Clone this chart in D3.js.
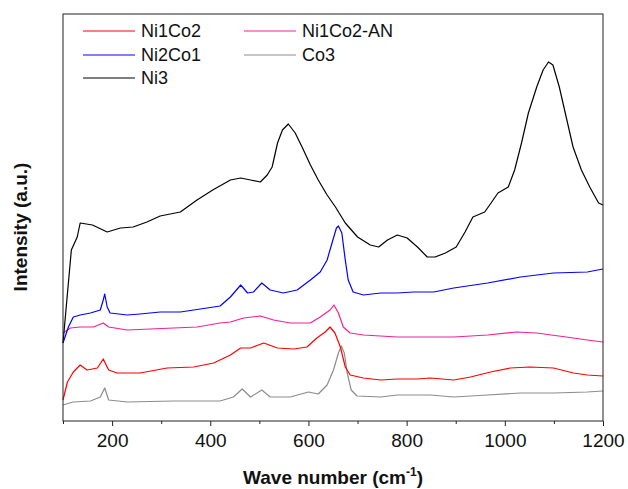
<!DOCTYPE html>
<html lang="en">
<head>
    <meta charset="UTF-8">
    <title>Raman spectra</title>
    <style>
        body {
            margin: 0;
            background: #fff;
            font-family: 'Liberation Sans', Arial, sans-serif;
        }

        .spectrum {
            fill: none;
            stroke-width: 1.2;
            stroke-linejoin: round;
        }

        .axis text {
            font-size: 19px;
            fill: #111;
        }

        .legend text {
            font-size: 18px;
            fill: #111;
        }

        .title {
            font-size: 19px;
            font-weight: bold;
            fill: #111;
        }
    </style>
</head>
<body>
    <div id="plot"></div>

    <script src="https://d3js.org/d3.v7.min.js"></script>
    <script>
        // wave numbers (cm-1) and intensities (a.u.)
        const ni3Wave = [100, 117, 129, 135, 160, 190, 217, 243, 271, 298, 339, 373, 405, 441, 462, 482, 502, 516, 526, 537, 547, 559, 573, 587, 604, 620, 638, 655, 675, 700, 726, 743, 761, 781, 801, 822, 842, 858, 879, 901, 919, 935, 959, 972, 986, 1007, 1020, 1034, 1048, 1065, 1078, 1089, 1098, 1111, 1125, 1139, 1156, 1173, 1191, 1200];
        const ni3 = [78, 171, 184, 198, 196, 189, 193, 194, 199, 205, 209, 221, 231, 241, 243, 241, 239, 246, 254, 278, 291, 297, 288, 274, 256, 241, 226, 214, 198, 184, 176, 174, 181, 186, 183, 174, 164, 164, 168, 174, 189, 204, 209, 218, 228, 234, 251, 278, 308, 334, 351, 359, 356, 334, 304, 274, 251, 234, 218, 216];

        const ni2co1Wave = [100, 111, 121, 135, 156, 176, 182, 185, 190, 196, 231, 257, 298, 339, 380, 420, 441, 462, 476, 488, 505, 522, 549, 577, 604, 624, 638, 648, 657, 661, 668, 675, 681, 691, 712, 747, 781, 814, 855, 896, 965, 1032, 1099, 1168, 1200];
        const ni2co1 = [78, 94, 104, 106, 108, 111, 121, 127, 114, 108, 106, 107, 109, 109, 112, 115, 124, 136, 128, 129, 138, 131, 128, 131, 141, 149, 161, 178, 193, 195, 188, 161, 141, 129, 126, 128, 128, 129, 129, 133, 138, 144, 148, 149, 152];

        const ni1co2anWave = [100, 115, 135, 162, 182, 193, 231, 278, 325, 373, 420, 441, 468, 502, 529, 563, 604, 624, 644, 652, 661, 671, 685, 712, 781, 848, 896, 965, 1024, 1065, 1125, 1168, 1200];
        const ni1co2an = [88, 93, 94, 94, 98, 94, 91, 92, 93, 94, 98, 99, 103, 105, 101, 98, 98, 104, 111, 116, 108, 94, 88, 86, 84, 84, 84, 86, 89, 88, 84, 81, 79];

        const ni1co2Wave = [100, 109, 121, 135, 149, 170, 182, 193, 210, 257, 312, 366, 407, 441, 462, 482, 509, 537, 570, 597, 617, 634, 644, 654, 665, 675, 685, 712, 747, 781, 822, 848, 896, 930, 971, 1011, 1051, 1099, 1140, 1168, 1200];
        const ni1co2 = [21, 39, 49, 56, 51, 53, 62, 51, 48, 48, 53, 54, 58, 66, 73, 73, 78, 73, 72, 74, 83, 89, 94, 88, 74, 54, 46, 43, 41, 42, 42, 43, 41, 44, 49, 53, 54, 53, 48, 46, 45];

        const co3Wave = [100, 121, 156, 176, 185, 193, 231, 325, 420, 447, 465, 482, 505, 522, 563, 600, 620, 638, 651, 661, 667, 673, 679, 687, 699, 747, 781, 848, 896, 965, 1032, 1099, 1168, 1200];
        const co3 = [16, 19, 20, 24, 33, 21, 19, 20, 20, 24, 32, 24, 31, 24, 24, 29, 27, 36, 51, 68, 75, 68, 48, 31, 25, 24, 26, 26, 24, 26, 28, 28, 29, 30];

        const names = ["Ni1Co2", "Ni2Co1", "Ni3", "Ni1Co2-AN", "Co3"];
        const colors = ["#ff0000", "#0000ff", "#000000", "#f0209a", "#8c8c8c"];
        const waves = [ni1co2Wave, ni2co1Wave, ni3Wave, ni1co2anWave, co3Wave];
        const values = [ni1co2, ni2co1, ni3, ni1co2an, co3];

        const majorTicks = [200, 400, 600, 800, 1000, 1200];
        const minorTicks = [100, 300, 500, 700, 900, 1100];

        const width = 628;
        const height = 489;
        const margin = { top: 14, right: 25, bottom: 68, left: 63 };

        const xScale = d3.scaleLinear()
            .domain([100, 1200])
            .range([margin.left, width - margin.right]);

        const yScale = d3.scaleLinear()
            .domain([0, 407])
            .range([height - margin.bottom, margin.top]);

        const svg = d3.select('#plot')
            .append('svg')
            .attr('width', width)
            .attr('height', height);

        // spectra, drawn back to front
        const line = d3.line()
            .x(d => xScale(d[0]))
            .y(d => yScale(d[1]));

        const drawOrder = [4, 0, 3, 1, 2];
        drawOrder.forEach(i => {
            const pts = waves[i].map((w, j) => [w, values[i][j]]);
            svg.append('path')
                .attr('class', 'spectrum')
                .attr('stroke', colors[i])
                .attr('d', line(pts));
        });

        // frame
        svg.append('rect')
            .attr('x', xScale(100))
            .attr('y', yScale(407))
            .attr('width', xScale(1200) - xScale(100))
            .attr('height', yScale(0) - yScale(407))
            .attr('fill', 'none')
            .attr('stroke', '#222')
            .attr('stroke-width', 1);

        // bottom axis: labelled major ticks + short minor ticks
        const xAxis = d3.axisBottom(xScale)
            .tickValues(majorTicks)
            .tickFormat(d3.format('d'))
            .tickSize(5)
            .tickPadding(8);

        const gx = svg.append('g')
            .attr('class', 'x axis')
            .attr('transform', `translate(0, ${yScale(0)})`)
            .call(xAxis);
        gx.select('.domain').remove();
        gx.selectAll('line').attr('stroke', '#222');

        const gxMinor = svg.append('g')
            .attr('transform', `translate(0, ${yScale(0)})`)
            .call(d3.axisBottom(xScale).tickValues(minorTicks).tickSize(3).tickFormat(''));
        gxMinor.select('.domain').remove();
        gxMinor.selectAll('line').attr('stroke', '#222');

        // axis titles
        const xTitle = svg.append('text')
            .attr('class', 'title')
            .attr('x', 333)
            .attr('y', 484)
            .attr('text-anchor', 'middle');
        xTitle.append('tspan').text('Wave number (cm');
        xTitle.append('tspan').attr('font-size', '12px').attr('dy', -8).text('-1');
        xTitle.append('tspan').attr('dy', 8).text(')');

        svg.append('text')
            .attr('class', 'title')
            .attr('transform', 'translate(27, 227) rotate(-90)')
            .attr('text-anchor', 'middle')
            .text('Intensity (a.u.)');

        // legend, two columns
        const legendCols = [[0, 1, 2], [3, 4]];
        const colX = [83, 244];
        const rowY = [31, 55, 78];

        const legend = svg.append('g').attr('class', 'legend');
        legendCols.forEach((col, c) => {
            col.forEach((idx, r) => {
                legend.append('line')
                    .attr('x1', colX[c])
                    .attr('x2', colX[c] + 52)
                    .attr('y1', rowY[r])
                    .attr('y2', rowY[r])
                    .attr('stroke', colors[idx])
                    .attr('stroke-width', 1.2);
                legend.append('text')
                    .attr('x', colX[c] + 58)
                    .attr('y', rowY[r])
                    .attr('dy', '0.35em')
                    .text(names[idx]);
            });
        });
    </script>
</body>
</html>
